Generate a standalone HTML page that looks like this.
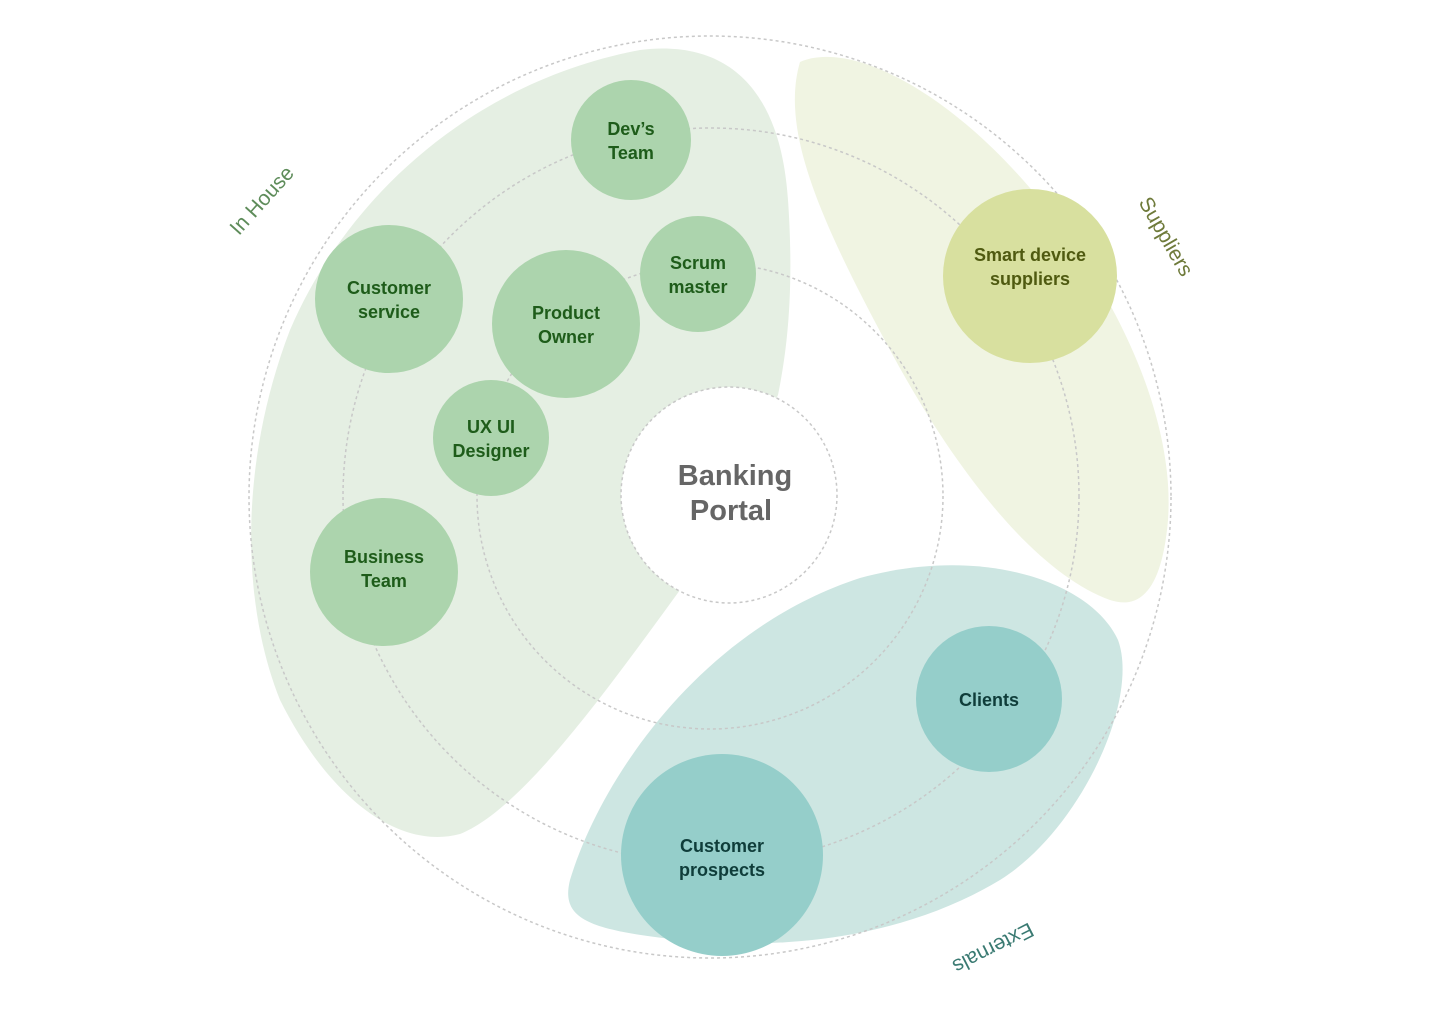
<!DOCTYPE html>
<html><head><meta charset="utf-8"><style>
html,body{margin:0;padding:0;background:#fff}
svg text{font-family:"Liberation Sans",sans-serif}
</style></head><body>
<svg width="1440" height="1025" viewBox="0 0 1440 1025" xmlns="http://www.w3.org/2000/svg">
<path d="M640,50 C720,40 780,80 788,200 C795,300 785,360 778,395 L680,590 C600,700 520,810 460,834 C400,850 330,800 280,700 C240,600 240,460 290,330 C350,190 480,80 640,50 Z" fill="#e5efe3"/>
<path d="M800,62 C850,40 950,90 1040,200 C1120,300 1175,420 1168,520 C1162,590 1140,610 1110,600 C1040,575 960,480 890,350 C820,220 780,130 800,62 Z" fill="#f0f4e2"/>
<path d="M570,880 C600,780 700,630 860,578 C980,545 1090,580 1118,640 C1140,700 1080,830 1000,880 C900,940 780,950 680,940 C590,930 560,920 570,880 Z" fill="#cde6e2"/>
<g fill="none" stroke="#c8c8c8" stroke-width="1.5" stroke-dasharray="3,3">
<circle cx="710" cy="497" r="461"/>
<circle cx="711" cy="496" r="368"/>
<circle cx="710" cy="496" r="233"/>
<circle cx="729" cy="495" r="108" fill="#fff"/>
</g>
<text x="735" y="485" font-size="29" font-weight="bold" fill="#666" text-anchor="middle">Banking</text>
<text x="731" y="520" font-size="29" font-weight="bold" fill="#666" text-anchor="middle">Portal</text>
<g font-size="18" font-weight="bold" text-anchor="middle">
<circle cx="631" cy="140" r="60" fill="#acd4ad"/>
<text x="631" y="135" fill="#1e5c1a">Dev’s</text><text x="631" y="159" fill="#1e5c1a">Team</text>
<circle cx="389" cy="299" r="74" fill="#acd4ad"/>
<text x="389" y="294" fill="#1e5c1a">Customer</text><text x="389" y="318" fill="#1e5c1a">service</text>
<circle cx="566" cy="324" r="74" fill="#acd4ad"/>
<text x="566" y="319" fill="#1e5c1a">Product</text><text x="566" y="343" fill="#1e5c1a">Owner</text>
<circle cx="698" cy="274" r="58" fill="#acd4ad"/>
<text x="698" y="269" fill="#1e5c1a">Scrum</text><text x="698" y="293" fill="#1e5c1a">master</text>
<circle cx="491" cy="438" r="58" fill="#acd4ad"/>
<text x="491" y="433" fill="#1e5c1a">UX UI</text><text x="491" y="457" fill="#1e5c1a">Designer</text>
<circle cx="384" cy="572" r="74" fill="#acd4ad"/>
<text x="384" y="563" fill="#1e5c1a">Business</text><text x="384" y="587" fill="#1e5c1a">Team</text>
<circle cx="1030" cy="276" r="87" fill="#d8e09f"/>
<text x="1030" y="261" fill="#4f5a10">Smart device</text><text x="1030" y="285" fill="#4f5a10">suppliers</text>
<circle cx="989" cy="699" r="73" fill="#95ceca"/>
<text x="989" y="706" fill="#0f3d3a">Clients</text>
<circle cx="722" cy="855" r="101" fill="#95ceca"/>
<text x="722" y="852" fill="#0f3d3a">Customer</text><text x="722" y="876" fill="#0f3d3a">prospects</text>
</g>
<text transform="translate(267,205) rotate(-48)" font-size="21" fill="#5e8c5a" text-anchor="middle">In House</text>
<text transform="translate(1160,240) rotate(60)" font-size="21" fill="#6e7a3a" text-anchor="middle">Suppliers</text>
<text transform="translate(990,942) rotate(153)" font-size="21" fill="#3a7a72" text-anchor="middle">Externals</text>
</svg>
</body></html>
